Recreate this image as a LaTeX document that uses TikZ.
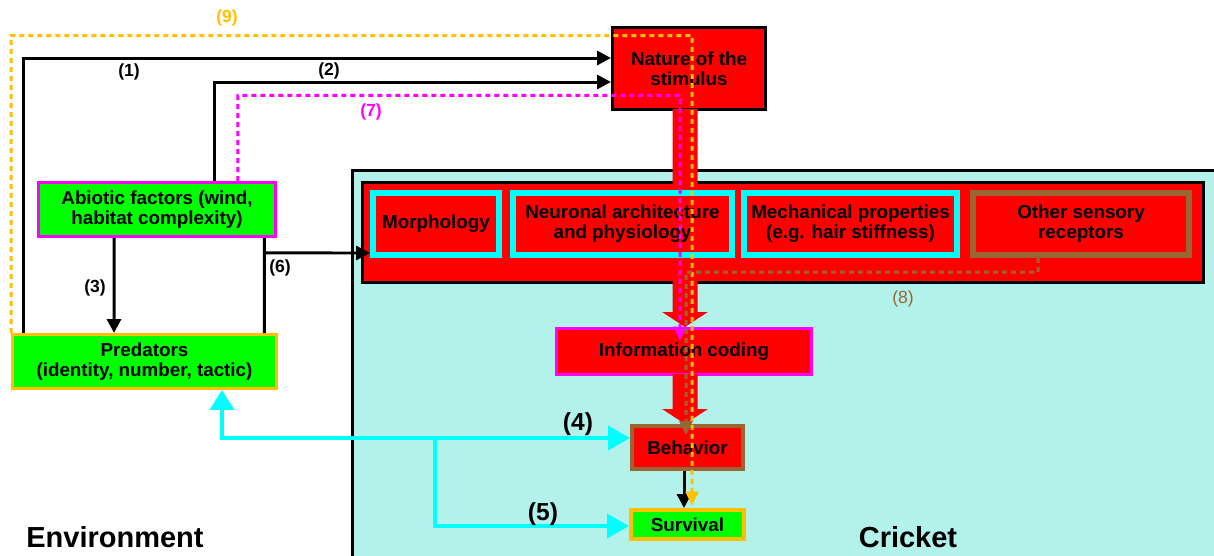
\documentclass[tikz,border=0pt]{standalone}
\usepackage{fontspec}
\setmainfont{Liberation Sans}
\usetikzlibrary{arrows.meta}
\definecolor{cgreen}{RGB}{0,255,0}
\definecolor{cred}{RGB}{255,0,0}
\definecolor{ccyan}{RGB}{0,255,255}
\definecolor{cmagenta}{RGB}{255,0,255}
\definecolor{corange}{RGB}{255,192,0}
\definecolor{cbrown}{RGB}{153,102,51}
\definecolor{cpanel}{RGB}{178,242,235}

\begin{document}
\begin{tikzpicture}[x=0.02cm, y=-0.02cm,
    box/.style={rectangle, draw, line width=0.06cm, align=center, inner sep=1pt, font=\fontsize{10.7}{11.5}\selectfont\bfseries},
    part/.style={box, draw=ccyan, fill=cred, line width=0.12cm, minimum height=1.24cm},
    arrow/.style={-{Triangle[length=0.28cm, width=0.28cm]}, line width=0.06cm},
    link/.style={ccyan, line width=0.08cm},
    bigarrow/.style={cred, line width=0.5cm, -{Triangle[length=0.3cm, width=0.9cm]}},
    dashline/.style={line width=0.06cm, dash pattern=on 0.1cm off 0.08cm, -{Triangle[length=0.28cm, width=0.26cm]}},
    num/.style={font=\fontsize{10}{12}\selectfont\bfseries},
    title/.style={font=\fontsize{16.5}{20}\selectfont\bfseries}
]
\useasboundingbox (0,0) rectangle (1214,555);
\clip (0,0) rectangle (1214,555);

% Cricket panel
\draw[line width=0.06cm, fill=cpanel] (352,170) rectangle (1250,600);
\node[box, fill=cred, minimum width=16.82cm, minimum height=2cm] (band) at (783,232.5) {};

% Boxes
\node[box, fill=cred, minimum width=3.06cm, minimum height=1.64cm] (nature) at (689,68.5) {Nature of the\\stimulus};
\node[box, draw=cmagenta, fill=cgreen, minimum width=4.74cm, minimum height=1.08cm] (abiotic) at (157,209.5) {Abiotic factors (wind,\\habitat complexity)};
\node[box, draw=corange, fill=cgreen, minimum width=5.28cm, minimum height=1.08cm] (predators) at (144.5,361.5) {Predators\\(identity, number, tactic)};
\node[box, draw=cmagenta, fill=cred, minimum width=5.1cm, minimum height=0.92cm] (info) at (684,351.5) {Information coding};
\node[box, draw=cbrown, fill=cred, line width=0.08cm, minimum width=2.22cm, minimum height=0.86cm] (behav) at (687.5,447.5) {Behavior};
\node[box, draw=corange, fill=cgreen, line width=0.08cm, minimum width=2.26cm, minimum height=0.58cm] (surv) at (687.5,524.5) {Survival};

% Main flow
\draw[bigarrow] ([xshift=-0.08cm, yshift=0.04cm]nature.south) -- ([xshift=0.02cm]info.north);
\draw[bigarrow] ([xshift=0.02cm, yshift=0.04cm]info.south) -- ([xshift=-0.05cm]behav.north);

% Sensory parts
\node[part, minimum width=2.52cm] (morph) at (436,224) {Morphology};
\node[part, minimum width=4.38cm] (neuro) at (622.5,224) {Neuronal architecture\\and physiology};
\node[part, minimum width=4.26cm] (mech) at (850.5,224) {Mechanical properties\\(e.g. hair stiffness)};
\node[part, draw=cbrown, minimum width=4.32cm] (other) at (1081,224) {Other sensory\\receptors};

% Arrows
\draw[arrow] ([xshift=0.25cm]predators.north west) |- ([yshift=0.21cm]nature.west);
\draw[arrow] ([xshift=1.16cm]abiotic.north) |- ([yshift=-0.27cm]nature.west);
\draw[arrow] ([xshift=-0.86cm]abiotic.south) -- ([xshift=-0.61cm]predators.north);
\draw[line width=0.06cm] ([xshift=-0.25cm]abiotic.south east) -- ([xshift=-0.27cm]predators.north east);
\draw[arrow] ([xshift=-0.25cm, yshift=-0.3cm]abiotic.south east) -- ([yshift=-0.58cm]morph.west);
\draw[arrow] ([xshift=-0.07cm]behav.south) -- ([xshift=-0.07cm]surv.north);
\draw[link, {Triangle[length=0.4cm, width=0.48cm]}-{Triangle[length=0.44cm, width=0.48cm]}] ([xshift=1.55cm]predators.south) |- ([yshift=0.19cm]behav.west);
\coordinate (split) at (435,438);
\draw[link, -{Triangle[length=0.44cm, width=0.48cm]}] (split) |- ([yshift=-0.03cm]surv.west);

% Dashed paths
\draw[dashline, corange] (predators.north west) |- ([xshift=0.06cm, yshift=-0.19cm]nature.north) -- ([xshift=0.09cm, yshift=0.05cm]surv.north);
\draw[dashline, cmagenta] ([xshift=1.62cm]abiotic.north) |- ([xshift=-0.18cm, yshift=0.31cm]nature.south) -- ([xshift=-0.08cm, yshift=-0.27cm]info.north);
\draw[dashline, cbrown] ([xshift=-0.86cm]other.south) |- (686,272) -- ([xshift=-0.03cm, yshift=-0.22cm]behav.north);

% Labels
\node[num, text=corange] (n9) at (227,18) {(9)};
\node[num] (n1) at (129,72) {(1)};
\node[num] (n2) at (329,71) {(2)};
\node[num, text=cmagenta] (n7) at (371,112) {(7)};
\node[num] (n3) at (95,288) {(3)};
\node[num] (n6) at (280,268) {(6)};
\node[num, text=cbrown, font=\fontsize{10}{12}\selectfont] (n8) at (903,299) {(8)};
\node[num, font=\fontsize{14}{16}\selectfont\bfseries] (n4) at (578,424) {(4)};
\node[num, font=\fontsize{14}{16}\selectfont\bfseries] (n5) at (543,514) {(5)};
\node[title] (env) at (115,537) {Environment};
\node[title] (cricket) at (908,537) {Cricket};

\end{tikzpicture}
\end{document}
